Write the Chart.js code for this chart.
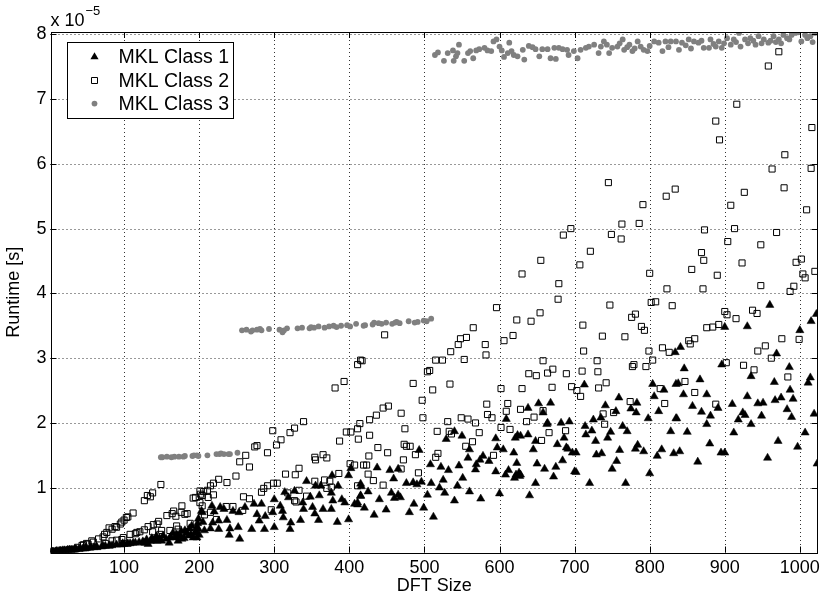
<!DOCTYPE html>
<html><head><meta charset="utf-8">
<script src="https://cdn.jsdelivr.net/npm/chart.js@4.4.1/dist/chart.umd.min.js"></script>
<style>html,body{margin:0;padding:0;background:#fff}#wrap{width:825px;height:600px}</style>
</head><body><div id="wrap"><canvas id="c" width="825" height="600"></canvas></div>
<script>
// Values in units of 1e-5 s, [DFT size, runtime]
const class1 = [
[2,0.00],[3,0.005],[4,0.01],[5,0.01],[6,0.01],[8,0.01],[9,0.015],[10,0.02],[12,0.02],[14,0.02],[15,0.025],[16,0.02],[18,0.03],[20,0.03],[21,0.03],[24,0.03],[25,0.04],[27,0.04],[28,0.04],[30,0.04],[32,0.04],[35,0.05],[36,0.05],[40,0.05],[42,0.06],[45,0.06],[48,0.06],[49,0.07],[50,0.07],[54,0.07],[56,0.08],[60,0.08],[63,0.09],[64,0.08],[70,0.09],[72,0.10],[75,0.10],[80,0.10],[81,0.11],[84,0.11],[90,0.12],[96,0.12],[98,0.14],[100,0.13],[104,0.13],[105,0.14],[108,0.14],[112,0.15],[115,0.15],[120,0.16],[125,0.17],[126,0.15],[128,0.15],[130,0.20],[132,0.13],[135,0.18],[137,0.22],[139,0.18],[140,0.19],[143,0.25],[144,0.18],[147,0.22],[150,0.18],[152,0.26],[156,0.21],[160,0.15],[161,0.23],[162,0.24],[165,0.30],[168,0.23],[170,0.28],[171,0.25],[172,0.18],[175,0.26],[176,0.33],[177,0.21],[180,0.22],[181,0.34],[183,0.30],[186,0.26],[187,0.37],[189,0.28],[190,0.41],[192,0.23],[194,0.30],[196,0.32],[197,0.39],[198,0.45],[199,0.52],[200,0.27],[204,0.62],
[197,0.23],[199,0.36],[203,0.64],[205,0.47],[207,0.34],[215,0.37],[217,0.72],[218,0.46],[220,0.63],[226,0.49],[226,0.36],[228,0.70],[233,0.67],[237,0.50],[240,0.27],[241,0.37],[245,0.64],[252,0.39],[253,0.62],[254,0.21],[261,0.70],[270,0.36],[273,0.75],[277,0.59],[280,0.49],[283,0.75],[287,0.36],[288,0.56],[298,0.62],[300,0.82],[300,0.39],[308,0.72],[311,0.64],[312,0.54],[314,0.93],[319,0.85],[321,0.36],[322,0.46],[327,0.95],[335,0.50],[338,0.77],[339,0.67],[343,1.10],[348,0.86],[351,0.70],[354,0.60],[355,1.03],[359,0.50],[360,0.88],[362,1.03],[365,0.67],[376,0.92],[376,0.67],[377,1.19],[378,0.80],[384,0.47],[385,1.03],[390,0.82],[394,0.77],[399,1.19],[399,0.51],[402,1.30],[407,0.75],[411,0.77],[415,1.06],[415,0.88],
[411,0.74],[415,0.87],[416,1.02],[420,0.69],[425,0.94],[433,0.58],[437,1.31],[440,0.82],[449,0.66],[454,1.27],[456,0.92],[459,1.14],[460,0.84],[465,1.29],[465,0.89],[468,0.85],[476,1.07],[480,0.62],[485,1.08],[486,0.75],[490,1.05],[493,1.58],[496,1.09],[499,0.69],[504,0.89],[508,1.36],[509,1.07],[512,0.55],[520,1.00],[522,1.32],[525,1.12],[527,0.92],[529,1.75],[532,1.27],[540,1.87],[540,0.80],[544,1.03],[546,1.34],[550,1.80],[551,1.15],[558,1.46],[560,1.59],[560,0.94],[568,1.28],[569,1.36],[574,1.43],[575,0.83],[578,1.49],[586,1.41],[595,1.76],[595,1.25],[597,1.62],[600,0.91],[605,1.59],[608,1.20],[609,2.06],[612,1.27],[619,1.54],[622,1.20],[624,1.81],[628,1.80],[628,1.20],
[620,1.15],[621,1.77],[623,1.38],[626,1.23],[627,1.18],[638,2.23],[638,1.82],[640,0.88],[645,1.59],[648,1.72],[648,1.07],[650,1.37],[652,2.30],[658,2.16],[660,1.29],[663,1.98],[664,2.00],[668,2.31],[672,1.17],[675,1.32],[677,1.67],[682,2.00],[684,1.42],[686,1.77],[689,1.62],[691,1.60],[693,2.02],[697,1.54],[700,1.25],[702,1.54],[702,1.24],[713,2.59],[714,1.95],[715,1.82],[720,1.07],[723,1.88],[725,2.05],[728,1.72],[729,1.51],[735,2.08],[736,1.53],[741,2.27],[744,1.77],[748,1.86],[750,1.29],[755,2.18],[756,1.41],[759,2.39],[760,1.58],[764,1.95],[768,1.07],[770,1.87],[775,2.22],[781,1.60],[782,2.16],[783,2.31],[784,1.66],[792,1.56],[798,2.07],[800,1.22],[804,2.60],[806,2.41],[810,1.49],[812,2.18],[816,1.59],[819,2.51],[832,1.53],[835,2.60],[835,2.07],
[828,1.87],[834,3.09],[836,2.07],[838,2.61],[840,1.56],[841,3.17],[845,2.44],[846,2.84],[850,1.86],[857,2.26],[864,1.40],[867,2.67],[869,2.17],[876,2.44],[876,1.98],[880,1.68],[881,2.11],[891,2.23],[895,1.54],[896,2.90],[900,3.48],[900,1.54],[910,2.29],[912,1.85],[918,2.05],[924,2.16],[927,2.12],[930,3.49],[930,2.41],[935,2.72],[935,1.98],[944,2.30],[949,2.11],[951,2.31],[957,1.46],[960,3.82],[966,2.63],[967,2.35],[969,3.07],[971,1.72],[975,2.39],[983,2.21],[986,2.86],[987,2.51],[989,2.09],[991,2.37],[997,1.63],[1000,3.43],[1007,1.85],[1011,2.62],[1014,2.70],[1015,3.57],[1019,2.14],[1022,3.68],[1023,1.37]
];
const class2 = [
[10,0.01],[14,0.02],[18,0.03],[22,0.03],[26,0.04],[30,0.04],[35,0.05],[38,0.08],[44,0.11],[46,0.12],[50,0.14],[52,0.13],[57,0.18],[59,0.16],[66,0.21],[72,0.24],[74,0.28],[75,0.14],[77,0.31],[80,0.38],[84,0.36],[84,0.18],[88,0.40],[90,0.39],[90,0.19],[95,0.44],[97,0.47],[97,0.20],[99,0.23],[100,0.50],[103,0.54],[105,0.55],[108,0.28],[112,0.61],[115,0.29],[117,0.31],[121,0.32],[127,0.80],[127,0.35],[131,0.88],[132,0.40],[135,0.86],[138,0.92],[138,0.32],[139,0.43],[144,0.44],[146,0.48],[148,0.28],[149,1.05],[150,0.34],[157,0.57],[161,0.34],[164,0.60],[166,0.64],[169,0.56],[170,0.41],[172,0.36],[176,0.62],[177,0.72],[181,0.59],[184,0.60],[188,0.45],[189,0.31],[192,0.84],[195,0.85],[201,0.95],[204,0.88],
[201,0.77],[202,0.90],[204,0.72],[206,0.94],[207,0.58],[211,0.96],[212,0.85],[215,1.03],[215,0.62],[219,1.07],[219,0.89],[223,0.51],[226,1.13],[236,0.71],[237,1.08],[245,0.71],[249,1.18],[254,1.40],[258,0.65],[259,0.86],[262,1.50],[267,1.32],[267,0.83],[274,1.63],[277,1.65],[283,0.93],[286,0.99],[291,1.54],[291,1.03],[296,0.66],[298,1.88],[299,1.07],[303,1.66],[304,1.07],[309,1.74],[315,1.21],[318,0.92],[321,1.85],[327,1.92],[327,0.80],[328,1.20],[329,0.78],[333,1.30],[333,0.96],[339,2.02],[343,0.87],[354,1.47],[354,1.10],[355,1.43],[365,1.51],[367,1.12],[370,1.46],[370,0.99],[374,1.10],[376,1.01],[381,2.54],[386,1.22],[387,1.72],[393,2.64],[396,1.86],[401,1.37],[402,1.86],[407,1.35],[411,2.90],[411,1.91],[412,1.75],[414,1.99],[415,2.97],[419,1.35],
[411,1.03],[417,2.96],[423,1.35],[425,1.21],[426,1.49],[427,2.05],[427,1.81],[432,1.11],[436,2.12],[438,1.62],[445,2.23],[445,1.04],[447,3.36],[451,1.54],[452,2.26],[469,2.15],[469,1.29],[472,1.43],[473,1.67],[474,1.91],[476,1.64],[481,1.64],[485,2.61],[488,1.51],[492,1.23],[497,2.35],[498,2.08],[504,2.79],[507,2.81],[511,2.51],[515,2.97],[515,1.47],[517,1.87],[518,1.53],[524,2.97],[531,2.02],[533,1.87],[534,2.60],[535,3.10],[536,1.83],[545,3.21],[548,3.30],[549,2.08],[553,2.98],[555,1.64],[556,3.32],[558,2.06],[564,1.71],[565,3.47],[568,2.00],[573,1.85],[581,3.21],[582,3.05],[583,2.29],[584,2.13],[590,2.08],[592,1.50],[596,3.78],[602,2.53],[602,1.93],[606,3.27],[609,2.18],[611,2.30],[614,1.90],[618,3.35],[623,3.59],[628,2.21],[630,4.30],[630,2.53],
[636,2.02],[639,2.76],[642,3.57],[646,2.09],[649,2.73],[654,3.70],[655,4.51],[656,1.73],[658,2.96],[658,2.19],[664,2.77],[666,1.85],[670,2.55],[671,2.83],[678,3.91],[679,4.15],[685,4.90],[688,1.88],[689,2.76],[695,5.00],[696,2.56],[703,2.50],[707,4.44],[708,2.41],[710,2.80],[711,3.51],[712,3.11],[721,4.65],[730,2.96],[731,2.79],[732,2.54],[737,3.34],[738,2.14],[740,1.98],[742,2.62],[745,5.71],[747,3.82],[749,4.91],[752,2.16],[762,4.84],[763,5.07],[767,3.33],[774,2.33],[776,3.63],[777,2.87],[779,2.90],[781,3.68],[786,5.08],[789,3.49],[791,5.37],[793,3.43],[795,2.87],[799,3.11],[800,4.31],[802,3.86],[804,2.97],[808,3.87],[814,2.53],[817,3.16],[820,2.30],[822,5.50],[823,4.07],[826,3.09],[830,3.81],[834,5.61],
[847,2.64],[852,3.27],[854,3.22],[856,4.37],[860,3.30],[860,2.47],[869,4.63],[871,4.07],[872,4.51],[873,4.98],[876,3.47],[884,3.48],[888,6.66],[888,2.29],[890,4.28],[892,3.52],[893,6.37],[900,3.72],[902,2.93],[903,3.67],[904,4.80],[908,5.36],[913,5.00],[915,3.61],[916,6.92],[923,4.47],[925,2.89],[926,5.56],[937,3.74],[939,2.82],[943,3.69],[944,3.11],[948,4.75],[948,4.12],[954,3.19],[958,7.51],[962,3.00],[963,5.92],[969,4.94],[972,7.73],[976,3.30],[979,5.63],[980,6.14],[984,2.71],[987,4.03],[992,4.11],[995,4.48],[999,3.29],[1002,4.53],[1004,4.30],[1007,4.24],[1009,5.29],[1015,5.93],[1016,6.56],[1020,4.34]
];
const class3 = [
[149,1.47],[151,1.47],[157,1.48],[163,1.47],[167,1.48],[173,1.48],[179,1.48],[181,1.49],[191,1.49],[193,1.50],[197,1.50],[199,1.49],[211,1.50],[223,1.52],[227,1.52],[229,1.53],[233,1.52],[239,1.52],[241,1.52],[251,1.54],
[257,3.43],[263,3.44],[269,3.41],[271,3.43],[277,3.44],[281,3.45],[283,3.43],[293,3.45],[307,3.44],[311,3.40],[313,3.43],[317,3.46],[331,3.46],[337,3.47],[347,3.46],[349,3.48],[353,3.47],[359,3.49],[367,3.47],[373,3.49],[379,3.50],[383,3.48],[389,3.50],[397,3.51],[401,3.49],[409,3.53],[419,3.50],[421,3.51],[431,3.52],[433,3.55],[439,3.54],[443,3.53],[449,3.55],[457,3.53],[461,3.55],[463,3.56],[467,3.54],[479,3.57],[487,3.55],[491,3.56],[499,3.58],[503,3.57],[509,3.61],
[514,7.68],[518,7.72],[526,7.59],[531,7.71],[538,7.75],[539,7.59],[542,7.66],[546,7.84],[544,7.71],[553,7.59],[558,7.71],[561,7.74],[565,7.63],[569,7.75],[573,7.77],[580,7.79],[584,7.75],[589,7.74],[592,7.89],[596,7.92],[600,7.81],[603,7.75],[606,7.65],[611,7.71],[613,7.87],[616,7.74],[619,7.68],[624,7.66],[631,7.76],[633,7.61],[639,7.82],[644,7.80],[648,7.77],[653,7.66],[657,7.77],[664,7.77],[668,7.63],[673,7.79],[675,7.62],[679,7.79],[684,7.77],[690,7.76],[692,7.68],[699,7.74],[704,7.63],[708,7.76],[715,7.79],[719,7.81],[726,7.84],[732,7.71],[735,7.81],[739,7.89],[743,7.84],[746,7.71],[750,7.79],[757,7.81],
[760,7.86],[764,7.92],[766,7.76],[770,7.80],[773,7.84],[777,7.74],[780,7.78],[784,7.89],[788,7.81],[792,7.76],[797,7.74],[800,7.82],[806,7.89],[812,7.87],[817,7.74],[821,7.89],[825,7.80],[828,7.89],[835,7.89],[839,7.76],[843,7.87],[848,7.83],[852,7.92],[855,7.78],[859,7.89],[865,7.87],[869,7.90],[872,7.79],[879,7.79],[881,7.92],[885,7.85],[888,7.81],[892,7.89],[896,7.79],[899,7.86],[903,7.94],[908,7.84],[912,7.92],[915,7.88],[919,8.02],[921,7.81],[927,7.92],[931,7.86],[934,7.94],[938,7.90],[941,7.84],[945,7.97],[949,7.86],[952,7.92],[958,7.87],[961,7.90],[965,7.97],[968,7.88],[972,7.92],[975,7.86],[978,7.99],[983,7.94],[986,7.92],[989,7.99],[994,8.02],[998,8.03],[1002,7.89],[1007,7.99],[1010,7.94],[1014,7.97],[1017,7.88],[1020,8.02]
];
const seriesNames = ['MKL Class 1', 'MKL Class 2', 'MKL Class 3'];
const xTicks = [100, 200, 300, 400, 500, 600, 700, 800, 900, 1000];
const yTicks = [0, 1, 2, 3, 4, 5, 6, 7, 8];
const xTitle = 'DFT Size';
const yTitle = 'Runtime [s]';
const yExpBase = 'x 10';
const yExp = '\u22125';

const FONT = "'Liberation Sans', Arial, Helvetica, sans-serif";
const toXY = arr => arr.map(p => ({x: p[0], y: p[1]}));

const styles = [
  {pointStyle: 'triangle', radius: 4.7, bg: '#000', border: '#000', bw: 0.5},
  {pointStyle: 'rect', radius: 4.3, bg: 'rgba(0,0,0,0)', border: '#000', bw: 1},
  {pointStyle: 'circle', radius: 2.9, bg: '#808080', border: '#808080', bw: 0}
];

const gridPlugin = {
  id: 'dottedGrid',
  beforeDatasetsDraw(chart) {
    const ctx = chart.ctx, a = chart.chartArea;
    const xs = chart.scales.x, ys = chart.scales.y;
    ctx.save();
    ctx.strokeStyle = '#333';
    ctx.lineWidth = 1;
    ctx.setLineDash([1, 3]);
    ctx.beginPath();
    xTicks.forEach(v => {
      const px = Math.round(xs.getPixelForValue(v)) + 0.5;
      ctx.moveTo(px, a.top); ctx.lineTo(px, a.bottom);
    });
    yTicks.forEach(v => {
      if (v === 0) return;
      const py = Math.round(ys.getPixelForValue(v)) + 0.5;
      ctx.moveTo(a.left, py); ctx.lineTo(a.right, py);
    });
    ctx.stroke();
    ctx.restore();
  }
};

const framePlugin = {
  id: 'frame',
  afterDraw(chart) {
    const ctx = chart.ctx, a = chart.chartArea;
    const xs = chart.scales.x, ys = chart.scales.y;
    ctx.save();
    ctx.strokeStyle = '#000';
    ctx.lineWidth = 1;
    ctx.setLineDash([]);
    ctx.strokeRect(Math.round(a.left) + 0.5, Math.round(a.top) + 0.5, Math.round(a.right - a.left) - 1, Math.round(a.bottom - a.top));
    ctx.beginPath();
    const tl = 6;
    xTicks.forEach(v => {
      const px = Math.round(xs.getPixelForValue(v)) + 0.5;
      ctx.moveTo(px, a.bottom); ctx.lineTo(px, a.bottom - tl);
      ctx.moveTo(px, a.top); ctx.lineTo(px, a.top + tl);
    });
    yTicks.forEach(v => {
      const py = Math.round(ys.getPixelForValue(v)) + 0.5;
      ctx.moveTo(a.left, py); ctx.lineTo(a.left + tl, py);
      ctx.moveTo(a.right, py); ctx.lineTo(a.right - tl, py);
    });
    ctx.stroke();
    // exponent label
    ctx.fillStyle = '#000';
    ctx.textBaseline = 'alphabetic';
    ctx.textAlign = 'left';
    ctx.font = '18px ' + FONT;
    ctx.fillText(yExpBase, a.left, 26);
    const w = ctx.measureText(yExpBase).width;
    ctx.font = '13px ' + FONT;
    ctx.fillText(yExp, a.left + w + 1, 15);
    // legend
    const lx = 67, ly = 42, lw = 166, lh = 76;
    ctx.fillStyle = '#fff';
    ctx.fillRect(lx, ly, lw, lh);
    ctx.strokeStyle = '#000';
    ctx.strokeRect(lx + 0.5, ly + 0.5, lw, lh);
    seriesNames.forEach((name, i) => {
      const cy = 57 + i * 23.3, cx = 94.5;
      const s = styles[i];
      ctx.beginPath();
      if (s.pointStyle === 'triangle') {
        const r = s.radius;
        ctx.moveTo(cx, cy - r);
        ctx.lineTo(cx + r * Math.sqrt(3) / 2, cy + r / 2);
        ctx.lineTo(cx - r * Math.sqrt(3) / 2, cy + r / 2);
        ctx.closePath();
        ctx.fillStyle = '#000'; ctx.fill();
      } else if (s.pointStyle === 'rect') {
        const h = s.radius * Math.SQRT1_2;
        ctx.rect(Math.round(cx - h) + 0.5, Math.round(cy - h) + 0.5, Math.round(2 * h), Math.round(2 * h));
        ctx.strokeStyle = '#000'; ctx.lineWidth = 1; ctx.stroke();
      } else {
        ctx.arc(cx, cy, s.radius, 0, Math.PI * 2);
        ctx.fillStyle = s.bg; ctx.fill();
      }
      ctx.fillStyle = '#000';
      ctx.font = '19.5px ' + FONT;
      ctx.textBaseline = 'middle';
      ctx.fillText(name, 118.5, cy + 1);
    });
    ctx.restore();
  }
};

const datasets = [class1, class2, class3].map((arr, i) => ({
  label: seriesNames[i],
  data: toXY(arr),
  pointStyle: styles[i].pointStyle,
  pointRadius: styles[i].radius,
  pointHoverRadius: styles[i].radius,
  pointBackgroundColor: styles[i].bg,
  pointBorderColor: styles[i].border,
  pointBorderWidth: styles[i].bw,
  showLine: false,
  order: [2, 1, 0][i]
}));

new Chart(document.getElementById('c'), {
  type: 'scatter',
  data: {datasets},
  options: {
    responsive: false,
    animation: false,
    devicePixelRatio: 1,
    layout: {padding: {left: 0, right: 5, top: 32, bottom: 0}},
    plugins: {legend: {display: false}, tooltip: {enabled: false}},
    scales: {
      x: {
        type: 'linear', min: 2, max: 1024,
        afterBuildTicks: s => { s.ticks = xTicks.map(v => ({value: v})); },
        afterFit: s => { s.height = 47.5; },
        grid: {display: false, drawTicks: false},
        border: {display: false},
        ticks: {color: '#000', font: {family: FONT, size: 18}, padding: 5, maxRotation: 0, autoSkip: false, callback: v => String(v)},
        title: {display: true, text: xTitle, color: '#000', font: {family: FONT, size: 18}, padding: {top: 0, bottom: 3}}
      },
      y: {
        type: 'linear', min: 0, max: 8.035,
        afterBuildTicks: s => { s.ticks = yTicks.map(v => ({value: v})); },
        afterFit: s => { s.width = 50.5; },
        grid: {display: false, drawTicks: false},
        border: {display: false},
        ticks: {color: '#000', font: {family: FONT, size: 18}, padding: 4, callback: v => v === 0 ? '' : String(v)},
        title: {display: true, text: yTitle, color: '#000', font: {family: FONT, size: 18}, padding: {top: 3, bottom: 0}}
      }
    }
  },
  plugins: [gridPlugin, framePlugin]
});
</script></body></html>
